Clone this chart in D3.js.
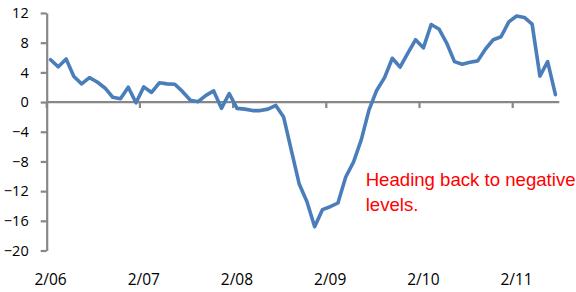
<!DOCTYPE html>
<html>
<head>
<meta charset="utf-8">
<script src="https://cdnjs.cloudflare.com/ajax/libs/d3/7.8.5/d3.min.js"></script>
<style>
  html, body { margin: 0; padding: 0; background: #ffffff; }
  svg { display: block; }
</style>
</head>
<body>
<svg id="chart" width="576" height="292"></svg>
<script>
// ---- data ----
const categories = [
  "2/06","3/06","4/06","5/06","6/06","7/06","8/06","9/06","10/06","11/06","12/06","1/07",
  "2/07","3/07","4/07","5/07","6/07","7/07","8/07","9/07","10/07","11/07","12/07","1/08",
  "2/08","3/08","4/08","5/08","6/08","7/08","8/08","9/08","10/08","11/08","12/08","1/09",
  "2/09","3/09","4/09","5/09","6/09","7/09","8/09","9/09","10/09","11/09","12/09","1/10",
  "2/10","3/10","4/10","5/10","6/10","7/10","8/10","9/10","10/10","11/10","12/10","1/11",
  "2/11","3/11","4/11","5/11","6/11","7/11"
];
const values = [
  5.7, 4.75, 5.8, 3.45, 2.45, 3.3, 2.7, 1.9, 0.65, 0.45, 2.0, -0.1,
  2.05, 1.3, 2.6, 2.45, 2.4, 1.4, 0.25, 0.05, 0.9, 1.5, -0.85, 1.15,
  -0.85, -0.95, -1.15, -1.15, -0.95, -0.45, -2.0, -6.5, -11.0, -13.4, -16.8, -14.5,
  -14.1, -13.6, -10.1, -8.1, -5.1, -1.05, 1.6, 3.3, 5.9, 4.7, 6.6, 8.4,
  7.3, 10.45, 9.85, 7.95, 5.45, 5.1, 5.35, 5.55, 7.15, 8.4, 8.8, 10.8,
  11.6, 11.4, 10.5, 3.5, 5.45, 1.0
];
const xTickLabels = ["2/06","2/07","2/08","2/09","2/10","2/11"];
const yTickValues = [-20, -16, -12, -8, -4, 0, 4, 8, 12];
const annotationLines = ["Heading back to negative", "levels."];

// ---- layout ----
const svg = d3.select("#chart");
const plotLeft = 46.7, plotRight = 559.3, plotTop = 13, plotBottom = 250.5;
const axisColor = "#878787";

const x = d3.scaleBand().domain(categories).range([plotLeft, plotRight]).padding(0);
const bw = x.bandwidth();
const y = d3.scaleLinear().domain([-20, 12]).range([plotBottom, plotTop]);

// y axis
const yAxis = d3.axisLeft(y).tickValues(yTickValues).tickSize(6).tickSizeOuter(0).tickPadding(12)
  .tickFormat(d3.format("d"));
const gy = svg.append("g").attr("transform", `translate(${plotLeft},0)`).call(yAxis);
gy.select(".domain").attr("stroke", axisColor).attr("stroke-width", 2.2);
gy.selectAll(".tick line").attr("stroke", axisColor).attr("stroke-width", 2.2);
gy.selectAll(".tick text")
  .attr("fill", "#000")
  .style("font-family", "'Open Sans', 'Noto Sans', sans-serif")
  .style("font-size", "14.5px");

// x axis line at zero
const y0 = y(0);
svg.append("line")
  .attr("x1", plotLeft).attr("x2", plotRight)
  .attr("y1", y0).attr("y2", y0)
  .attr("stroke", axisColor).attr("stroke-width", 2.2);

// x ticks at category boundaries, every 12 months
svg.append("g").selectAll("line")
  .data(xTickLabels)
  .join("line")
  .attr("x1", d => x(d)).attr("x2", d => x(d))
  .attr("y1", y0).attr("y2", y0 + 6)
  .attr("stroke", axisColor).attr("stroke-width", 2.2);

// x tick labels at the bottom
svg.append("g").selectAll("text")
  .data(xTickLabels)
  .join("text")
  .attr("x", d => x(d) + bw / 2)
  .attr("y", 285)
  .attr("text-anchor", "middle")
  .attr("fill", "#000")
  .style("font-family", "'Open Sans', 'Noto Sans', sans-serif")
  .style("font-size", "15.5px")
  .text(d => d);

// line
const line = d3.line()
  .x((d, i) => x(categories[i]) + bw / 2)
  .y(d => y(d));
svg.append("path")
  .datum(values)
  .attr("d", line)
  .attr("fill", "none")
  .attr("stroke", "#4a7ebb")
  .attr("stroke-width", 3.6)
  .attr("stroke-linejoin", "round")
  .attr("stroke-linecap", "round");

// annotation
svg.append("g").selectAll("text")
  .data(annotationLines)
  .join("text")
  .attr("x", 365.7)
  .attr("y", (d, i) => 186 + i * 25)
  .attr("fill", "#ff0000")
  .style("font-family", "'Liberation Sans', Arial, sans-serif")
  .style("font-size", "18.6px")
  .text(d => d);
</script>
</body>
</html>
